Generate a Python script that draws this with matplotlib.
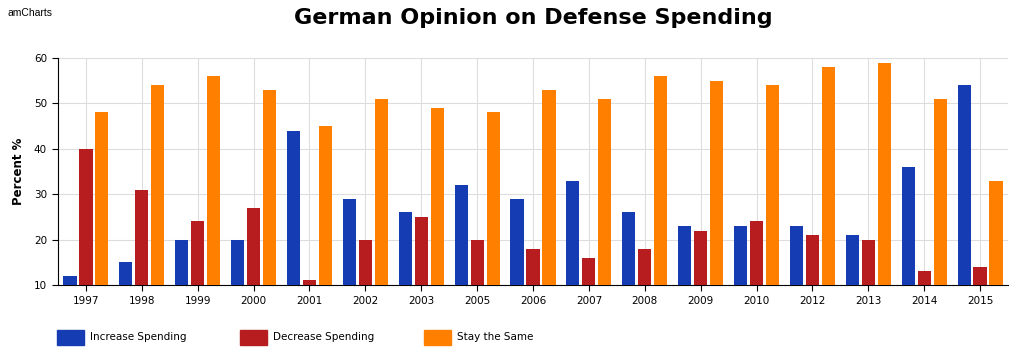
import matplotlib
matplotlib.use("Agg")
import matplotlib.pyplot as plt
from matplotlib.patches import Rectangle
import numpy as np

years = ["1997", "1998", "1999", "2000", "2001", "2002", "2003", "2005", "2006",
         "2007", "2008", "2009", "2010", "2012", "2013", "2014", "2015"]
increase = [12, 15, 20, 20, 44, 29, 26, 32, 29, 33, 26, 23, 23, 23, 21, 36, 54]
decrease = [40, 31, 24, 27, 11, 20, 25, 20, 18, 16, 18, 22, 24, 21, 20, 13, 14]
same = [48, 54, 56, 53, 45, 51, 49, 48, 53, 51, 56, 55, 54, 58, 59, 51, 33]

series = [("Increase Spending", increase, "#163cb4"),
          ("Decrease Spending", decrease, "#b71c1f"),
          ("Stay the Same", same, "#ff8000")]

plt.rcParams["font.family"] = "DejaVu Sans"

fig = plt.figure(figsize=(10.24, 3.61), dpi=100)
ax = fig.add_axes([58/1024, 1-285/361, 950/1024, 227/361])

x = np.arange(len(years))
w = 0.235
offsets = [-0.286, 0, 0.286]
for (name, vals, col), off in zip(series, offsets):
    ax.bar(x + off, vals, width=w, color=col, zorder=3)

ax.set_xlim(-0.5, len(years) - 0.5)
ax.set_ylim(10, 60)
ax.set_yticks([10, 20, 30, 40, 50, 60])
ax.set_xticks(x)
ax.set_xticklabels(years)
ax.tick_params(axis="both", labelsize=7.5, colors="#000000", length=4, width=0.8, pad=4)
ax.grid(True, color="#dddddd", linewidth=0.8, zorder=0)
for s in ["top", "right"]:
    ax.spines[s].set_visible(False)
ax.spines["left"].set_color("#000000")
ax.spines["bottom"].set_color("#000000")
ax.set_ylabel("Percent %", fontsize=8.5, fontweight="bold", labelpad=6)

fig.text(533/1024, 1-18/361, "German Opinion on Defense Spending", ha="center", va="center",
         fontsize=16, fontweight="bold")
fig.text(8/1024, 1-13/361, "amCharts", ha="left", va="center", fontsize=7.5,
         family="Liberation Sans")

# legend
lx = [57, 240, 424]
for (name, vals, col), px in zip(series, lx):
    fig.add_artist(Rectangle((px/1024, 1-345/361), 27/1024, 15/361,
                             transform=fig.transFigure, color=col))
    fig.text((px + 33)/1024, 1-337/361, name, ha="left", va="center", fontsize=7.5)

fig.savefig("out.png", dpi=100)
